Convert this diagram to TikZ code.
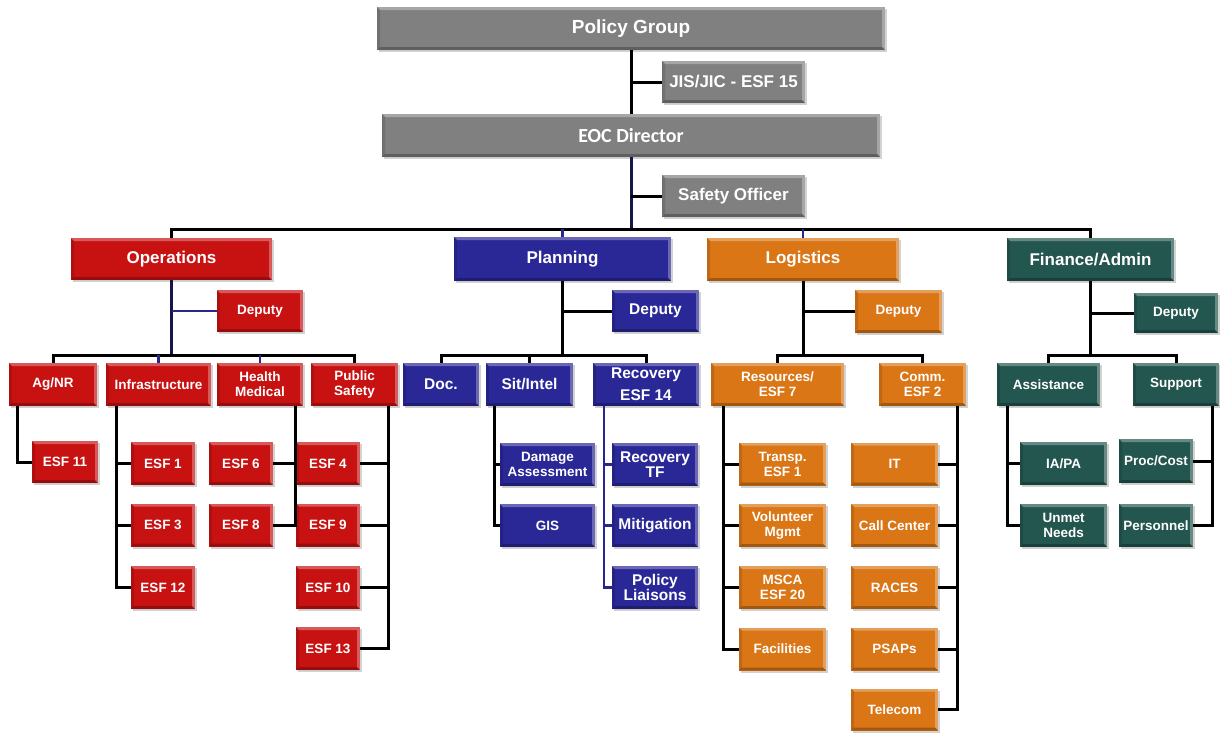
\documentclass[tikz,border=0pt]{standalone}
\usepackage{fontspec}
\setmainfont{Liberation Sans}
\newfontfamily\calfont{Carlito}
\usepackage{tikz}
\usetikzlibrary{positioning,shadows}
\definecolor{boxgrey}{RGB}{128,128,128}
\definecolor{opsred}{RGB}{200,18,18}
\definecolor{planblue}{RGB}{42,40,150}
\definecolor{logorange}{RGB}{218,118,22}
\definecolor{finteal}{RGB}{36,86,80}
\definecolor{linknavy}{RGB}{40,40,140}
\newcommand{\bevelshade}{%
  \fill[white,opacity=.30] (path picture bounding box.north west) -- (path picture bounding box.north east)
    -- ([xshift=-3pt,yshift=-3pt]path picture bounding box.north east) -- ([xshift=3pt,yshift=-3pt]path picture bounding box.north west) -- cycle;
  \fill[white,opacity=.30] (path picture bounding box.north east) -- (path picture bounding box.south east)
    -- ([xshift=-3pt,yshift=3pt]path picture bounding box.south east) -- ([xshift=-3pt,yshift=-3pt]path picture bounding box.north east) -- cycle;
  \fill[black,opacity=.25] (path picture bounding box.south west) -- (path picture bounding box.south east)
    -- ([xshift=-3pt,yshift=3pt]path picture bounding box.south east) -- ([xshift=3pt,yshift=3pt]path picture bounding box.south west) -- cycle;
  \fill[black,opacity=.12] (path picture bounding box.north west) -- (path picture bounding box.south west)
    -- ([xshift=3pt,yshift=3pt]path picture bounding box.south west) -- ([xshift=3pt,yshift=-3pt]path picture bounding box.north west) -- cycle;}
\tikzset{
  unit/.style={fill=#1, text=white, align=center, inner sep=1pt,
    drop shadow={shadow xshift=2pt, shadow yshift=-2pt, opacity=.35},
    path picture={\bevelshade}},
  greybox/.style={unit=boxgrey}, redbox/.style={unit=opsred},
  bluebox/.style={unit=planblue}, orangebox/.style={unit=logorange},
  tealbox/.style={unit=finteal}
}

\begin{document}
\begin{tikzpicture}[x=1pt, y=-1pt]
  \tikzstyle{hugetext}=[font=\bfseries\fontsize{19}{21}\selectfont]
  \tikzstyle{midtext}=[font=\bfseries\fontsize{17}{19}\selectfont]
  \tikzstyle{plantext}=[font=\bfseries\fontsize{15.5}{15}\selectfont]
  \tikzstyle{smalltext}=[font=\bfseries\fontsize{13.5}{15}\selectfont]
  \tikzstyle{link}=[line width=3pt, black]
  \tikzstyle{navylink}=[line width=2.2pt, linknavy]
  \fill[white] (0,0) rectangle (1220,734);
  \useasboundingbox (0,0) rectangle (1220,734);

  % command staff
  \node[greybox, hugetext, minimum width=508pt, minimum height=43pt] (policy) at (631,28.5) {Policy Group};
  \node[greybox, midtext, minimum width=143pt, minimum height=42pt] (jis) at (733.5,82) {JIS/JIC - ESF 15};
  \node[greybox, font=\calfont\bfseries\fontsize{20}{22}\selectfont, minimum width=498pt, minimum height=43pt] (eoc) at (631,135.5) {EOC Director};
  \node[greybox, midtext, minimum width=143pt, minimum height=42pt] (safety) at (733.5,196) {Safety Officer};

  % sections
  \node[redbox, midtext, minimum width=201pt, minimum height=42pt] (ops) at (171.5,259) {Operations};
  \node[bluebox, midtext, minimum width=217pt, minimum height=44pt] (plan) at (562.5,259) {Planning};
  \node[orangebox, midtext, minimum width=192pt, minimum height=43pt] (log) at (803,259.5) {Logistics};
  \node[tealbox, midtext, minimum width=167pt, minimum height=43pt] (fin) at (1090.5,259.5) {Finance/Admin};

  % deputies
  \node[redbox, smalltext, minimum width=86pt, minimum height=42pt] (opsdep) at (260,311) {Deputy};
  \node[bluebox, plantext, minimum width=87pt, minimum height=42pt] (plandep) at (655.5,311) {Deputy};
  \node[orangebox, smalltext, minimum width=87pt, minimum height=43pt] (logdep) at (898.5,311.5) {Deputy};
  \node[tealbox, smalltext, minimum width=84pt, minimum height=40pt] (findep) at (1176,313) {Deputy};

  % operations branches
  \node[redbox, smalltext, minimum width=88pt, minimum height=43pt] (agnr) at (53,384.5) {Ag/NR};
  \node[redbox, smalltext, minimum width=105pt, minimum height=43pt] (infra) at (158.5,384.5) {Infrastructure};
  \node[redbox, smalltext, minimum width=86pt, minimum height=43pt] (health) at (260,384.5) {Health\\Medical};
  \node[redbox, smalltext, minimum width=87pt, minimum height=43pt] (pubsafe) at (354.5,384.5) {Public\\Safety};
  \node[redbox, smalltext, minimum width=66pt, minimum height=42pt] (esf11) at (65,462) {ESF 11};
  \node[redbox, smalltext, minimum width=64pt, minimum height=43pt] (esf1) at (163,463.5) {ESF 1};
  \node[redbox, smalltext, minimum width=64pt, minimum height=43pt] (esf3) at (163,525) {ESF 3};
  \node[redbox, smalltext, minimum width=64pt, minimum height=43pt] (esf12) at (163,587.5) {ESF 12};
  \node[redbox, smalltext, minimum width=64pt, minimum height=43pt] (esf6) at (241,463.5) {ESF 6};
  \node[redbox, smalltext, minimum width=64pt, minimum height=43pt] (esf8) at (241,525) {ESF 8};
  \node[redbox, smalltext, minimum width=64pt, minimum height=43pt] (esf4) at (328,463.5) {ESF 4};
  \node[redbox, smalltext, minimum width=64pt, minimum height=43pt] (esf9) at (328,525) {ESF 9};
  \node[redbox, smalltext, minimum width=64pt, minimum height=43pt] (esf10) at (328,587.5) {ESF 10};
  \node[redbox, smalltext, minimum width=64pt, minimum height=43pt] (esf13) at (328,648.5) {ESF 13};

  % planning branches
  \node[bluebox, plantext, minimum width=76pt, minimum height=43pt] (doc) at (441,384.5) {Doc.};
  \node[bluebox, plantext, minimum width=87pt, minimum height=43pt] (sitintel) at (529.5,384.5) {Sit/Intel};
  \node[bluebox, font=\bfseries\fontsize{15.5}{22}\selectfont, minimum width=106pt, minimum height=43pt] (recov) at (646,384.5) {Recovery\\ESF 14};
  \node[bluebox, smalltext, minimum width=95pt, minimum height=43pt] (damage) at (547.5,464.5) {Damage\\Assessment};
  \node[bluebox, smalltext, minimum width=95pt, minimum height=43pt] (gis) at (547.5,525.5) {GIS};
  \node[bluebox, plantext, minimum width=86pt, minimum height=43pt] (recovtf) at (655,464.5) {Recovery\\TF};
  \node[bluebox, plantext, minimum width=86pt, minimum height=43pt] (mitig) at (655,525.5) {Mitigation};
  \node[bluebox, plantext, minimum width=86pt, minimum height=43pt] (polliai) at (655,587.5) {Policy\\Liaisons};

  % logistics branches
  \node[orangebox, smalltext, minimum width=133pt, minimum height=43pt] (resources) at (777.5,384.5) {Resources/\\ESF 7};
  \node[orangebox, smalltext, minimum width=87pt, minimum height=43pt] (comm) at (922.5,384.5) {Comm.\\ESF 2};
  \node[orangebox, smalltext, minimum width=87pt, minimum height=43pt] (transp) at (782.5,464) {Transp.\\ESF 1};
  \node[orangebox, smalltext, minimum width=87pt, minimum height=43pt] (volun) at (782.5,525.5) {Volunteer\\Mgmt};
  \node[orangebox, smalltext, minimum width=87pt, minimum height=43pt] (msca) at (782.5,587.5) {MSCA\\ESF 20};
  \node[orangebox, smalltext, minimum width=87pt, minimum height=43pt] (facil) at (782.5,649) {Facilities};
  \node[orangebox, smalltext, minimum width=87pt, minimum height=43pt] (itsup) at (894.5,464) {IT};
  \node[orangebox, smalltext, minimum width=87pt, minimum height=43pt] (callctr) at (894.5,525.5) {Call Center};
  \node[orangebox, smalltext, minimum width=87pt, minimum height=43pt] (races) at (894.5,587.5) {RACES};
  \node[orangebox, smalltext, minimum width=87pt, minimum height=43pt] (psaps) at (894.5,649) {PSAPs};
  \node[orangebox, smalltext, minimum width=87pt, minimum height=42pt] (telecom) at (894.5,709.5) {Telecom};

  % finance branches
  \node[tealbox, smalltext, minimum width=103pt, minimum height=43pt] (assist) at (1048.5,384.5) {Assistance};
  \node[tealbox, smalltext, minimum width=86pt, minimum height=43pt] (support) at (1176,384.5) {Support};
  \node[tealbox, smalltext, minimum width=87pt, minimum height=43pt] (iapa) at (1063.5,463.5) {IA/PA};
  \node[tealbox, smalltext, minimum width=87pt, minimum height=43pt] (unmet) at (1063.5,525.5) {Unmet\\Needs};
  \node[tealbox, smalltext, minimum width=74pt, minimum height=44pt] (proccost) at (1156,461) {Proc/Cost};
  \node[tealbox, smalltext, minimum width=74pt, minimum height=43pt] (personnel) at (1156,525.5) {Personnel};

  % top connectors
  \coordinate (bus) at (631,229);
  \draw[link] (policy) -- (eoc);
  \draw[link] (jis.west) -- (jis.west -| policy.south);
  \draw[link, linknavy!55!black] (eoc.south) -- (bus);
  \draw[link] (safety.west) -- (safety.west -| eoc.south);
  \draw[link] (ops.north) |- (bus) -| (fin.north);
  \draw[navylink] (plan.north) -- (plan.north |- bus);
  \draw[navylink] (log.north) -- (log.north |- bus);

  % operations connectors
  \coordinate (opsbus) at (ops.south |- 0,355);
  \draw[link, linknavy!55!black] (ops.south) -- (opsbus);
  \draw[navylink] (opsdep.west) -- (opsdep.west -| ops.south);
  \draw[link] (agnr.north) |- (opsbus) -| (pubsafe.north);
  \draw[navylink] (infra.north) -- (infra.north |- opsbus);
  \draw[navylink] (health.north) -- (health.north |- opsbus);
  \coordinate (agline) at ([xshift=9pt]agnr.south west);
  \draw[link] (agline) |- (esf11.west);
  \coordinate (infraline) at ([xshift=11pt]infra.south west);
  \draw[link] (infraline) |- (esf12.west);
  \foreach \n in {esf1,esf3} \draw[link] (\n.west) -- (\n.west -| infraline);
  \coordinate (healthline) at ([xshift=-8pt]health.south east);
  \draw[link] (healthline) |- (esf8.east);
  \draw[link] (esf6.east) -- (esf6.east -| healthline);
  \coordinate (publine) at ([xshift=-10pt]pubsafe.south east);
  \draw[link] (publine) |- (esf13.east);
  \foreach \n in {esf4,esf9,esf10} \draw[link] (\n.east) -- (\n.east -| publine);

  % planning connectors
  \coordinate (planbus) at (plan.south |- 0,355);
  \draw[link] (plan.south) -- (planbus);
  \draw[link] (plandep.west) -- (plandep.west -| plan.south);
  \draw[link] (doc.north) |- (planbus) -| (recov.north);
  \draw[link] (sitintel.north) -- (sitintel.north |- planbus);
  \coordinate (sitline) at ([xshift=9pt]sitintel.south west);
  \draw[link] (sitline) |- (gis.west);
  \draw[link] (damage.west) -- (damage.west -| sitline);
  \coordinate (recovline) at ([xshift=11pt]recov.south west);
  \draw[navylink] (recovline) |- (polliai.west);
  \foreach \n in {recovtf,mitig} \draw[navylink] (\n.west) -- (\n.west -| recovline);

  % logistics connectors
  \coordinate (logbus) at (log.south |- 0,355);
  \draw[link] (log.south) -- (logbus);
  \draw[link] (logdep.west) -- (logdep.west -| log.south);
  \draw[link] (resources.north) |- (logbus) -| (comm.north);
  \coordinate (resline) at ([xshift=13pt]resources.south west);
  \draw[link] (resline) |- (facil.west);
  \foreach \n in {transp,volun,msca} \draw[link] (\n.west) -- (\n.west -| resline);
  \coordinate (commline) at ([xshift=-9pt]comm.south east);
  \draw[link] (commline) |- (telecom.east);
  \foreach \n in {itsup,callctr,races,psaps} \draw[link] (\n.east) -- (\n.east -| commline);

  % finance connectors
  \coordinate (finbus) at (fin.south |- 0,355);
  \draw[link] (fin.south) -- (finbus);
  \draw[link] (findep.west) -- (findep.west -| fin.south);
  \draw[link] (assist.north) |- (finbus) -| (support.north);
  \coordinate (assistline) at ([xshift=11pt]assist.south west);
  \draw[link] (assistline) |- (unmet.west);
  \draw[link] (iapa.west) -- (iapa.west -| assistline);
  \coordinate (supline) at ([xshift=-7pt]support.south east);
  \draw[link] (supline) |- (personnel.east);
  \draw[link] (proccost.east) -- (proccost.east -| supline);
\end{tikzpicture}
\end{document}
